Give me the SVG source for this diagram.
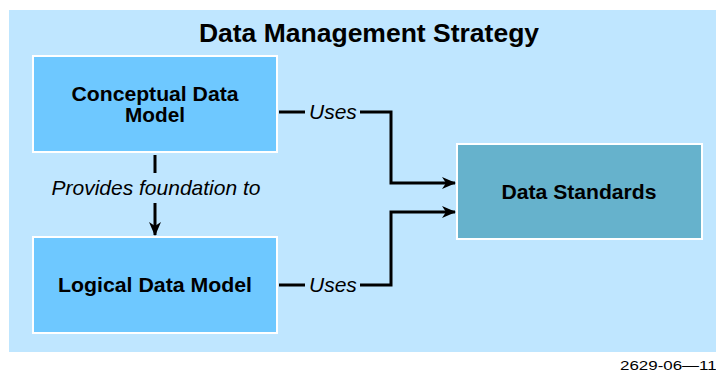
<svg xmlns="http://www.w3.org/2000/svg" width="716" height="372" viewBox="0 0 716 372">
<style>
.box{stroke:#ffffff;stroke-width:2}
.lbl{font-family:"Liberation Sans",Arial,sans-serif;font-weight:bold;font-size:19.5px;fill:#000;text-anchor:middle}
.it{font-family:"Liberation Sans",Arial,sans-serif;font-style:italic;font-size:21px;fill:#000}
.ln{stroke:#000;stroke-width:3;fill:none}
</style>
<defs>
<marker id="ah" viewBox="0 0 14 12" refX="13" refY="6" markerWidth="14" markerHeight="12" markerUnits="userSpaceOnUse" orient="auto">
<path d="M0,0 L14,6 L0,12 L4,6 Z" fill="#000"/>
</marker>
</defs>
<rect x="9" y="10" width="707" height="342" fill="#bfe6ff"/>
<text x="369" y="42" font-family="Liberation Sans,Arial,sans-serif" font-weight="bold" font-size="26.5" text-anchor="middle">Data Management Strategy</text>
<g id="conceptual">
<rect class="box" x="33" y="56" width="244" height="96" fill="#6ec8ff"/>
<text class="lbl" x="155" y="101" textLength="167" lengthAdjust="spacingAndGlyphs">Conceptual Data</text>
<text class="lbl" x="155" y="122" textLength="60" lengthAdjust="spacingAndGlyphs">Model</text>
</g>
<g id="logical">
<rect class="box" x="33" y="237" width="244" height="96" fill="#6ec8ff"/>
<text class="lbl" x="155" y="292" textLength="194" lengthAdjust="spacingAndGlyphs">Logical Data Model</text>
</g>
<g id="standards">
<rect class="box" x="457" y="144" width="245" height="95" fill="#66b2cc"/>
<text class="lbl" x="579" y="199" textLength="155" lengthAdjust="spacingAndGlyphs">Data Standards</text>
</g>
<g id="connectors">
<path class="ln" d="M155,155 V173"/>
<path class="ln" d="M155,203 V235" marker-end="url(#ah)"/>
<text class="it" x="156" y="195" text-anchor="middle">Provides foundation to</text>
<path class="ln" d="M279,112 H305"/>
<text class="it" x="309" y="119">Uses</text>
<path class="ln" d="M360,112 H391 V183 H455" marker-end="url(#ah)"/>
<path class="ln" d="M279,285 H305"/>
<text class="it" x="309" y="292">Uses</text>
<path class="ln" d="M360,285 H391 V212 H455" marker-end="url(#ah)"/>
</g>
<text x="620" y="370" font-family="Liberation Sans,Arial,sans-serif" font-size="13" textLength="106" lengthAdjust="spacingAndGlyphs">2629-06—119</text>
</svg>
